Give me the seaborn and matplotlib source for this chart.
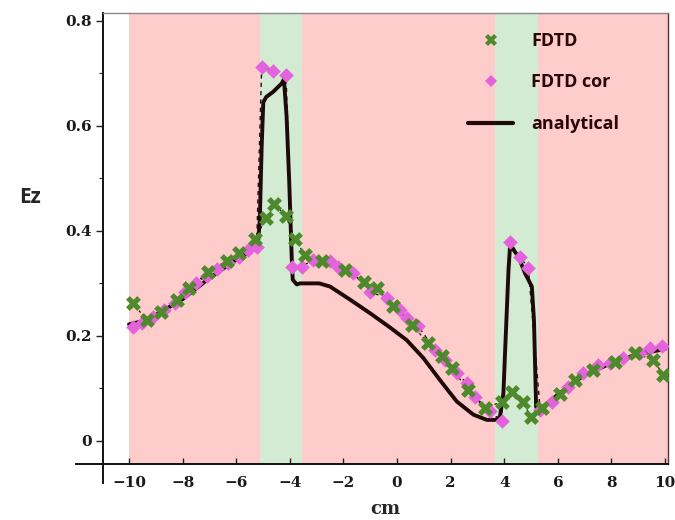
import numpy as np
import pandas as pd
import matplotlib
matplotlib.use("Agg")
import matplotlib.pyplot as plt
from matplotlib.lines import Line2D
import seaborn as sns

# 数据
# ----------------------------
fdtd_x = [-9.86, -9.34, -8.82, -8.22, -7.75, -7.04, -6.36, -5.88, -5.30,
          -4.89, -4.58, -4.15, -3.81, -3.43, -2.81, -1.94, -1.25, -0.76,
          -0.14, 0.55, 1.17, 1.67, 2.04, 2.66, 3.28,
          3.91, 4.30, 4.69, 4.99, 5.40, 6.08, 6.64, 7.33, 8.13, 8.88,
          9.56, 9.94]
fdtd_y = [0.263, 0.230, 0.246, 0.269, 0.291, 0.322, 0.343, 0.357, 0.384,
          0.424, 0.451, 0.429, 0.384, 0.354, 0.342, 0.326, 0.303, 0.291,
          0.257, 0.221, 0.186, 0.161, 0.138, 0.097, 0.062,
          0.075, 0.093, 0.075, 0.046, 0.062, 0.090, 0.116, 0.135, 0.151, 0.167,
          0.154, 0.126]

cor_x = [-9.84, -9.50, -9.10, -8.70, -8.30, -7.90, -7.50, -7.10, -6.70,
         -6.30, -5.90, -5.55, -5.24, -5.05, -4.62, -4.14, -3.93, -3.56,
         -3.12, -2.50, -2.19, -1.63, -1.00, -0.38, 0.11, 0.36, 0.80,
         1.42, 1.79, 2.23, 2.60, 2.91, 3.47, 3.91, 4.22, 4.59, 4.90,
         5.34, 5.77, 6.39, 6.95, 7.51, 7.95, 8.44, 9.07, 9.44, 9.88]
cor_y = [0.217, 0.225, 0.236, 0.250, 0.262, 0.283, 0.300, 0.315, 0.328,
         0.338, 0.350, 0.364, 0.369, 0.712, 0.705, 0.697, 0.332, 0.332,
         0.345, 0.342, 0.332, 0.319, 0.284, 0.272, 0.250, 0.234, 0.218,
         0.173, 0.154, 0.129, 0.110, 0.084, 0.056, 0.037, 0.378, 0.351, 0.329,
         0.059, 0.074, 0.103, 0.129, 0.145, 0.148, 0.158, 0.167, 0.176, 0.181]

ana_x = [-10.0, -9.5, -9.0, -8.0, -7.0, -6.0, -5.5, -5.2, -5.12, -5.05,
         -4.99, -4.88, -4.62, -4.30, -4.22, -4.12, -4.02, -3.93, -3.89,
         -3.74, -3.62, -2.90, -2.50, -1.75, -1.00, -0.26, 0.36, 0.98,
         1.60, 2.23, 2.85, 3.35, 3.69, 3.84, 3.97, 4.03, 4.16, 4.22,
         4.53, 4.78, 5.03, 5.11, 5.19, 5.27, 6.0, 7.0, 8.0, 9.0, 10.0]
ana_y = [0.222, 0.228, 0.240, 0.270, 0.310, 0.345, 0.360, 0.368, 0.420, 0.560,
         0.645, 0.655, 0.665, 0.681, 0.689, 0.618, 0.491, 0.351, 0.307,
         0.298, 0.300, 0.300, 0.294, 0.269, 0.243, 0.216, 0.192, 0.158,
         0.116, 0.075, 0.050, 0.040, 0.040, 0.046, 0.091, 0.167, 0.326, 0.373,
         0.351, 0.319, 0.294, 0.230, 0.065, 0.058, 0.088, 0.126, 0.148, 0.165, 0.175]

# 介质区域 (边界和颜色)
region_edges = [-10.0, -5.12, -3.55, 3.66, 5.27, 10.11]
region_colors = ['#ffcccc', '#d3ead3', '#ffcccc', '#d3ead3', '#ffcccc']

x_ticks = [-10, -8, -6, -4, -2, 0, 2, 4, 6, 8, 10]
y_ticks = [0, 0.2, 0.4, 0.6, 0.8]
y_labels = ['0', '0.2', '0.4', '0.6', '0.8']

# 颜色
c_fdtd = '#4e8a2c'
c_cor = '#e463dc'
c_ana = '#1e0a08'

# 绘图
# ----------------------------
sns.set_theme(style='white')
plt.rcParams['font.family'] = ['DejaVu Serif']

fig = plt.figure(figsize=(6.75, 5.2), dpi=100)
ax = fig.add_axes([0.1526, 0.1077, 0.8370, 0.8673])

for i in range(len(region_colors)):
    ax.axvspan(region_edges[i], region_edges[i + 1], color=region_colors[i], lw=0, zorder=0)

df_ana = pd.DataFrame({'x': ana_x, 'y': ana_y})
df_fdtd = pd.DataFrame({'x': fdtd_x, 'y': fdtd_y})
df_cor = pd.DataFrame({'x': cor_x, 'y': cor_y})

sns.lineplot(data=df_ana, x='x', y='y', sort=False, estimator=None,
             color=c_ana, lw=2.8, ax=ax, zorder=3)
# 数据点之间的虚线连接
ax.plot(cor_x, cor_y, ls=(0, (3, 3)), color=c_ana, lw=1.0, zorder=3)
ax.plot(fdtd_x, fdtd_y, ls=(0, (2, 2)), color=c_ana, lw=0.9, zorder=3)
sns.scatterplot(data=df_cor, x='x', y='y', marker='D', s=55, color=c_cor,
                linewidth=0, ax=ax, zorder=4)
sns.scatterplot(data=df_fdtd, x='x', y='y', marker='X', s=115, color=c_fdtd,
                linewidth=0, ax=ax, zorder=5)

ax.set_xlim(-10.97, 10.11)
ax.set_ylim(-0.044, 0.815)

ax.set_xticks(x_ticks)
ax.set_xticklabels([str(t).replace('-', '\u2212') for t in x_ticks])
ax.set_yticks(y_ticks)
ax.set_yticklabels(y_labels)
ax.set_yticks(np.arange(0.1, 0.8, 0.2), minor=True)
ax.tick_params(axis='x', direction='in', length=4, width=1, pad=9, labelsize=11,
               bottom=True, colors='#222222')
ax.tick_params(axis='y', which='major', direction='out', length=5, width=1, pad=3,
               labelsize=11, left=True, colors='#222222')
ax.tick_params(axis='y', which='minor', direction='out', length=3, width=0.8, left=True)
for lab in ax.get_xticklabels() + ax.get_yticklabels():
    lab.set_fontweight('bold')
    lab.set_color('#1a1a1a')

ax.set_xlabel('cm', fontsize=13, fontweight='bold', labelpad=7)
ax.set_ylabel('')
fig.text(0.045, 0.62, 'Ez', fontsize=15, fontweight='bold',
         family=['Open Sans', 'DejaVu Sans'], ha='center', va='center')

# 坐标轴样式：左轴和下轴互相穿过
for side in ['left', 'bottom', 'right', 'top']:
    ax.spines[side].set_visible(True)
ax.spines['left'].set_color('#111111')
ax.spines['bottom'].set_color('#111111')
ax.spines['left'].set_linewidth(1.4)
ax.spines['bottom'].set_linewidth(1.4)
ax.spines['left'].set_bounds(-0.08, 0.815)
ax.spines['bottom'].set_bounds(-11.98, 10.11)
ax.spines['top'].set_color('#888888')
ax.spines['right'].set_color('#5a3030')
ax.spines['top'].set_linewidth(1.0)
ax.spines['right'].set_linewidth(1.0)

# 图例
handles = [
    Line2D([], [], ls='none', marker='X', ms=9, color=c_fdtd, mew=0),
    Line2D([], [], ls='none', marker='D', ms=6, color=c_cor, mew=0),
    Line2D([], [], color=c_ana, lw=3),
]
leg = ax.legend(handles, ['FDTD', 'FDTD cor', 'analytical'], loc='upper left',
                bbox_to_anchor=(0.646, 0.958), frameon=False, handlelength=2.5,
                handletextpad=1.0, labelspacing=1.3, borderpad=0, borderaxespad=0,
                prop={'family': ['Open Sans', 'DejaVu Sans'], 'weight': 'bold', 'size': 13})
for t in leg.get_texts():
    t.set_color('#2a0808')

fig.savefig('out.png', dpi=100)
plt.close(fig)
